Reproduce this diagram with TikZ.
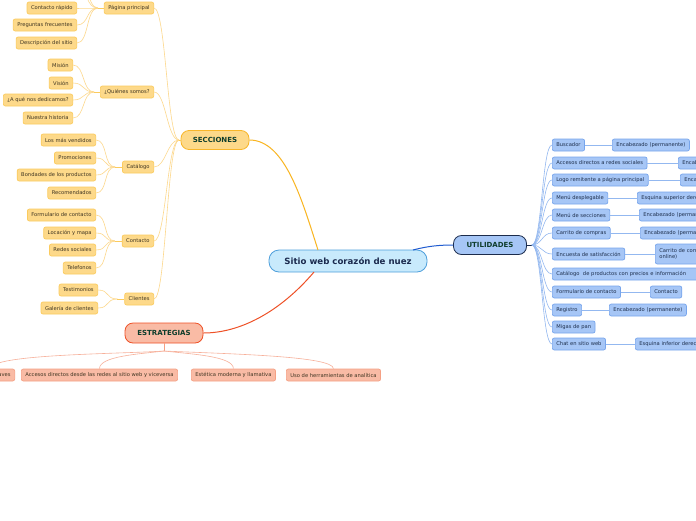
\documentclass[tikz,border=0pt]{standalone}
\usepackage{fontspec}
\setmainfont{DejaVu Sans}
\definecolor{secfill}{HTML}{FDD98A}
\definecolor{secdraw}{HTML}{FBCB5E}
\definecolor{seclink}{HTML}{FDD88C}
\definecolor{secmain}{HTML}{F9B520}
\definecolor{secmaindraw}{HTML}{F8B62A}
\definecolor{utifill}{HTML}{A6C6F6}
\definecolor{utidraw}{HTML}{77A5EC}
\definecolor{utilink}{HTML}{93B8F0}
\definecolor{utimain}{HTML}{1F5BD0}
\definecolor{utimaindraw}{HTML}{1C2C4C}
\definecolor{estfill}{HTML}{F9BBA5}
\definecolor{estdraw}{HTML}{F5A084}
\definecolor{estlink}{HTML}{F7B09A}
\definecolor{estmain}{HTML}{EE5127}
\definecolor{cenfill}{HTML}{C8EAFC}
\definecolor{cendraw}{HTML}{4E9FDB}
\definecolor{darkgreen}{HTML}{0E3D2C}
\definecolor{navy}{HTML}{1B2A4E}
\definecolor{txtbrown}{HTML}{3F3522}
\definecolor{txtblue}{HTML}{1E2F4C}
\begin{document}
\begin{tikzpicture}[x=1pt,y=-1pt,
  leaf/.style={rounded corners=2pt, inner xsep=4pt, inner ysep=0pt, minimum height=12pt,
    font=\fontsize{5.2}{6.2}\selectfont, line width=0.7pt},
  sleaf/.style={leaf, fill=secfill, draw=secdraw, text=txtbrown},
  uleaf/.style={leaf, fill=utifill, draw=utidraw, text=txtblue},
  eleaf/.style={leaf, fill=estfill, draw=estdraw, text=txtbrown},
  topic/.style={rounded corners=8pt, inner sep=0pt, font=\fontsize{7}{8}\bfseries\selectfont,
    text=darkgreen, line width=0.8pt, minimum height=19pt},
  slink/.style={draw=seclink, line width=0.6pt},
  ulink/.style={draw=utilink, line width=0.6pt},
  elink/.style={draw=estlink, line width=0.6pt},
  hc/.style={to path={.. controls ([xshift=#1]\tikztostart) and ([xshift=-#1]\tikztotarget) .. (\tikztotarget) \tikztonodes}},
  hc/.default=12pt
]
\useasboundingbox (0,0) rectangle (696,520);
\clip (0,0) rectangle (696,520);
\fill[white] (0,0) rectangle (696,520);

% ---------- main nodes
\node[rounded corners=10pt, fill=cenfill, draw=cendraw, line width=0.8pt, minimum width=158pt,
  minimum height=22pt, inner sep=0pt, text=navy, font=\fontsize{8.6}{10}\bfseries\selectfont]
  (cen) at (348,261) {Sitio web corazón de nuez};
\node[topic, fill=secfill, draw=secmaindraw, minimum width=68pt] (sec) at (215,140) {SECCIONES};
\node[topic, fill=utifill, draw=utimaindraw, minimum width=73pt] (uti) at (490,245) {UTILIDADES};
\node[topic, fill=estfill, draw=estmain, minimum width=78pt, minimum height=20pt] (est) at (164,333) {ESTRATEGIAS};

\coordinate (cs) at (318,250);
\coordinate (cu) at (413,250);
\coordinate (ce) at (314,272);
\draw[secmain, line width=1pt] (cs) .. controls (302,200) and (285,140) .. (sec.east);
\draw[utimain, line width=1pt] (cu) .. controls (428,246) and (440,245) .. (uti.west);
\draw[estmain, line width=1pt] (ce) .. controls (280,312) and (240,333) .. (est.east);

% ---------- SECCIONES level 2
\node[sleaf, anchor=east] (pp) at (154,8) {Página principal};
\node[sleaf, anchor=east] (qs) at (154,92) {¿Quiénes somos?};
\node[sleaf, anchor=east] (ca) at (154,167) {Catálogo};
\node[sleaf, anchor=east] (co) at (154,241) {Contacto};
\node[sleaf, anchor=east] (cl) at (154,299) {Clientes};
\coordinate (sj) at (179,140);
\foreach \n in {pp,qs,ca,co,cl} \draw[slink] (\n.east) to[hc] (sj);
\draw[secdraw, line width=1pt] (sj) -- (sec.west);

% Página principal children
\node[sleaf, anchor=east] (cr) at (77,8) {Contacto rápido};
\node[sleaf, anchor=east] (pf) at (77,25) {Preguntas frecuentes};
\node[sleaf, anchor=east] (ds) at (77,43) {Descripción del sitio};
\coordinate (ppa) at (77,-10);
\coordinate (ppb) at (77,-28);
\coordinate (ppj) at ([xshift=-6pt]pp.west);
\foreach \n in {cr.east,pf.east,ds.east,ppa,ppb} \draw[slink] (\n) to[hc] (ppj);
\draw[secdraw, line width=1pt] (ppj) -- (pp.west);

% Quiénes somos children
\node[sleaf, anchor=east] (mi) at (73,65) {Misión};
\node[sleaf, anchor=east] (vi) at (73,83) {Visión};
\node[sleaf, anchor=east] (qd) at (73,100) {¿A qué nos dedicamos?};
\node[sleaf, anchor=east] (nh) at (73,118) {Nuestra historia};
\coordinate (qsj) at ([xshift=-6pt]qs.west);
\foreach \n in {mi,vi,qd,nh} \draw[slink] (\n.east) to[hc] (qsj);
\draw[secdraw, line width=1pt] (qsj) -- (qs.west);

% Catálogo children
\node[sleaf, anchor=east] (lv) at (96,140) {Los más vendidos};
\node[sleaf, anchor=east] (pr) at (96,158) {Promociones};
\node[sleaf, anchor=east] (bp) at (96,175) {Bondades de los productos};
\node[sleaf, anchor=east] (re) at (96,193) {Recomendados};
\coordinate (caj) at ([xshift=-7pt]ca.west);
\foreach \n in {lv,pr,bp,re} \draw[slink] (\n.east) to[hc] (caj);
\draw[secdraw, line width=1pt] (caj) -- (ca.west);

% Contacto children
\node[sleaf, anchor=east] (fc) at (96,215) {Formulario de contacto};
\node[sleaf, anchor=east] (lm) at (96,233) {Locación y mapa};
\node[sleaf, anchor=east] (rs) at (96,250) {Redes sociales};
\node[sleaf, anchor=east] (te) at (96,268) {Telefonos};
\coordinate (coj) at ([xshift=-7pt]co.west);
\foreach \n in {fc,lm,rs,te} \draw[slink] (\n.east) to[hc] (coj);
\draw[secdraw, line width=1pt] (coj) -- (co.west);

% Clientes children
\node[sleaf, anchor=east] (ts) at (98,290) {Testimonios};
\node[sleaf, anchor=east] (gc) at (98,308) {Galería de clientes};
\coordinate (clj) at ([xshift=-7pt]cl.west);
\foreach \n in {ts,gc} \draw[slink] (\n.east) to[hc] (clj);
\draw[secdraw, line width=1pt] (clj) -- (cl.west);

% ---------- UTILIDADES
\node[uleaf, anchor=west] (u1) at (552,145) {Buscador};
\node[uleaf, anchor=west] (u2) at (552,163) {Accesos directos a redes sociales};
\node[uleaf, anchor=west] (u3) at (552,180) {Logo remitente a página principal};
\node[uleaf, anchor=west] (u4) at (552,198) {Menú desplegable};
\node[uleaf, anchor=west] (u5) at (552,215) {Menú de secciones};
\node[uleaf, anchor=west] (u6) at (552,233) {Carrito de compras};
\node[uleaf, anchor=west] (u7) at (552,254) {Encuesta de satisfacción};
\node[uleaf, anchor=west, text width=150pt, align=left] (u8) at (552,274) {Catálogo\ \ de productos con precios e información};
\node[uleaf, anchor=west] (u9) at (552,292) {Formulario de contacto};
\node[uleaf, anchor=west] (u10) at (552,310) {Registro};
\node[uleaf, anchor=west] (u11) at (552,327) {Migas de pan};
\node[uleaf, anchor=west] (u12) at (552,344) {Chat en sitio web};
\coordinate (uj) at ([xshift=5pt]uti.east);
\draw[utimaindraw, line width=1pt] (uti.east) -- (uj);
\foreach \n in {u1,u2,u3,u4,u5,u6,u7,u8,u9,u10,u11,u12} \draw[ulink] (uj) to[hc=10pt] (\n.west);

\node[uleaf, anchor=west] (g1) at (612,145) {Encabezado (permanente)};
\node[uleaf, anchor=west] (g2) at (678,163) {Encabezado (permanente)};
\node[uleaf, anchor=west] (g3) at (680,180) {Encabezado (permanente)};
\node[uleaf, anchor=west] (g4) at (637,198) {Esquina superior derecha};
\node[uleaf, anchor=west] (g5) at (639,215) {Encabezado (permanente)};
\node[uleaf, anchor=west] (g6) at (640,233) {Encabezado (permanente)};
\node[uleaf, anchor=west, minimum height=20pt, inner ysep=1pt, align=left] (g7) at (655,254) {Carrito de compras (pago\\online)};
\node[uleaf, anchor=west] (g9) at (650,292) {Contacto};
\node[uleaf, anchor=west] (g10) at (609,310) {Encabezado (permanente)};
\node[uleaf, anchor=west] (g12) at (635,344) {Esquina inferior derecha};
\foreach \a/\b in {u1/g1,u2/g2,u3/g3,u4/g4,u5/g5,u6/g6,u7/g7,u9/g9,u10/g10,u12/g12}
  \draw[ulink] (\a.east) -- (\b.west);

% ---------- ESTRATEGIAS
\node[eleaf, anchor=east] (e1) at (15,375) {Palabras claves};
\node[eleaf, anchor=west] (e2) at (21,375) {Accesos directos desde las redes al sitio web y viceversa};
\node[eleaf, anchor=west] (e3) at (191,375) {Estética moderna y llamativa};
\node[eleaf, anchor=west] (e4) at (286,375) {Uso de herramientas de analítica};
\coordinate (ej) at (164,351);
\draw[estdraw, line width=1pt] (est.south) -- (ej);
\draw[elink] (ej) .. controls (120,354) and (e1.north |- 0,354) .. (e1.north);
\draw[elink] (ej) .. controls (140,354) and (e2.north |- 0,356) .. (e2.north);
\draw[elink] (ej) .. controls (190,354) and (e3.north |- 0,356) .. (e3.north);
\draw[elink] (ej) .. controls (230,354) and (e4.north |- 0,356) .. (e4.north);
\end{tikzpicture}
\end{document}
